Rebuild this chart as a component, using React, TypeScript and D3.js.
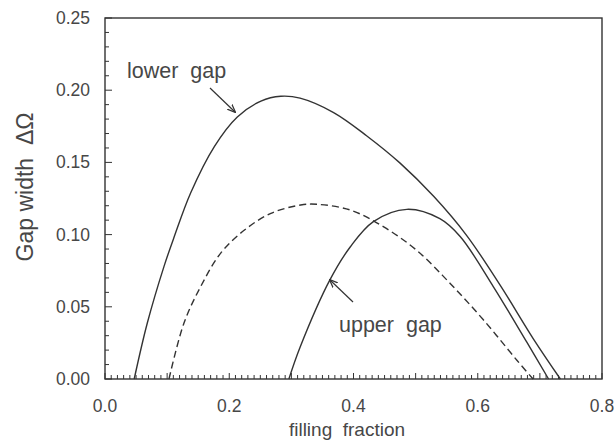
import React from "react";
import * as d3 from "d3";

const lowerX = [0.047, 0.068, 0.095, 0.111, 0.138, 0.176, 0.213, 0.251, 0.283, 0.314, 0.368, 0.421, 0.475, 0.529, 0.582, 0.636, 0.690, 0.733];
const lowerY = [0, 0.0386, 0.078, 0.098, 0.129, 0.161, 0.1815, 0.1925, 0.1958, 0.1945, 0.1845, 0.1685, 0.1495, 0.1265, 0.0995, 0.065, 0.0275, 0];

const upperX = [0.296, 0.314, 0.362, 0.395, 0.432, 0.486, 0.539, 0.572, 0.625, 0.679, 0.714];
const upperY = [0, 0.022, 0.0686, 0.0916, 0.109, 0.1175, 0.111, 0.0985, 0.064, 0.0255, 0];

const dashedX = [0.103, 0.127, 0.154, 0.186, 0.224, 0.267, 0.315, 0.341, 0.395, 0.448, 0.502, 0.556, 0.609, 0.663, 0.689];
const dashedY = [0, 0.0386, 0.064, 0.087, 0.103, 0.1147, 0.1205, 0.121, 0.117, 0.1055, 0.089, 0.066, 0.041, 0.013, 0];

const xTicks = [0, 0.2, 0.4, 0.6, 0.8];
const yTicks = [0, 0.05, 0.1, 0.15, 0.2, 0.25];

const FONT = "'Liberation Sans', Arial, Helvetica, sans-serif";
const TEXT = "#474747";
const INK = "#333";

export default function App() {
  const x = d3.scaleLinear().domain([0, 0.8]).range([105, 602]);
  const y = d3.scaleLinear().domain([0, 0.25]).range([379, 18]);

  const line = d3
    .line<[number, number]>()
    .x((d) => x(d[0]))
    .y((d) => y(d[1]))
    .curve(d3.curveCatmullRom.alpha(0.5));

  const zip = (a: number[], b: number[]) => a.map((v, i) => [v, b[i]] as [number, number]);

  const xMinor = d3.range(0, 81).map((i) => i / 100);
  const yMinor = d3.range(0, 26).map((i) => i / 100);

  return (
    <svg width={616} height={446} style={{ position: "absolute", left: 0, top: 0, background: "#fff" }}>
      <defs>
        <marker id="ah" viewBox="0 0 10 10" refX="9" refY="5" markerWidth="7" markerHeight="7" orient="auto">
          <path d="M0,1 L10,5 L0,9" fill="none" stroke={INK} strokeWidth={1.5} />
        </marker>
      </defs>
      {/* frame */}
      <rect x={x(0)} y={y(0.25)} width={x(0.8) - x(0)} height={y(0) - y(0.25)} fill="none" stroke={INK} strokeWidth={1.4} />
      {/* x ticks */}
      {xMinor.map((t, i) => (
        <line key={"xm" + i} x1={x(t)} x2={x(t)} y1={y(0)} y2={y(0) - (i % 10 === 0 ? 6 : 4)} stroke={INK} strokeWidth={1} />
      ))}
      {/* y ticks */}
      {yMinor.map((t, i) => (
        <line key={"ym" + i} x1={x(0)} x2={x(0) + (i % 5 === 0 ? 7 : 4)} y1={y(t)} y2={y(t)} stroke={INK} strokeWidth={1} />
      ))}
      {xTicks.map((t) => (
        <text key={"xt" + t} x={x(t)} y={412} textAnchor="middle" fontFamily={FONT} fontSize={17.5} fill={TEXT}>
          {t.toFixed(1)}
        </text>
      ))}
      {yTicks.map((t) => (
        <text key={"yt" + t} x={90} y={y(t) + 6} textAnchor="end" fontFamily={FONT} fontSize={17.5} fill={TEXT}>
          {t.toFixed(2)}
        </text>
      ))}
      <text x={347} y={436} textAnchor="middle" fontFamily={FONT} fontSize={19} fill={TEXT} style={{ whiteSpace: "pre" }}>
        {"filling  fraction"}
      </text>
      <text
        transform={`translate(33,187) rotate(-90)`}
        textAnchor="middle"
        fontFamily={FONT}
        fontSize={23}
        fill={TEXT}
        style={{ whiteSpace: "pre" }}
      >
        {"Gap width  ΔΩ"}
      </text>
      {/* curves */}
      <path d={line(zip(lowerX, lowerY)) || ""} fill="none" stroke={INK} strokeWidth={1.4} />
      <path d={line(zip(upperX, upperY)) || ""} fill="none" stroke={INK} strokeWidth={1.4} />
      <path d={line(zip(dashedX, dashedY)) || ""} fill="none" stroke={INK} strokeWidth={1.4} strokeDasharray="7,4" />
      {/* annotations */}
      <text x={127} y={78} fontFamily={FONT} fontSize={21.5} fill={TEXT} style={{ whiteSpace: "pre" }}>
        {"lower  gap"}
      </text>
      <line x1={210} y1={88} x2={235} y2={112} stroke={INK} strokeWidth={1.2} markerEnd="url(#ah)" />
      <text x={339} y={332} fontFamily={FONT} fontSize={21.5} fill={TEXT} style={{ whiteSpace: "pre" }}>
        {"upper  gap"}
      </text>
      <line x1={353} y1={302} x2={330} y2={280} stroke={INK} strokeWidth={1.2} markerEnd="url(#ah)" />
    </svg>
  );
}
